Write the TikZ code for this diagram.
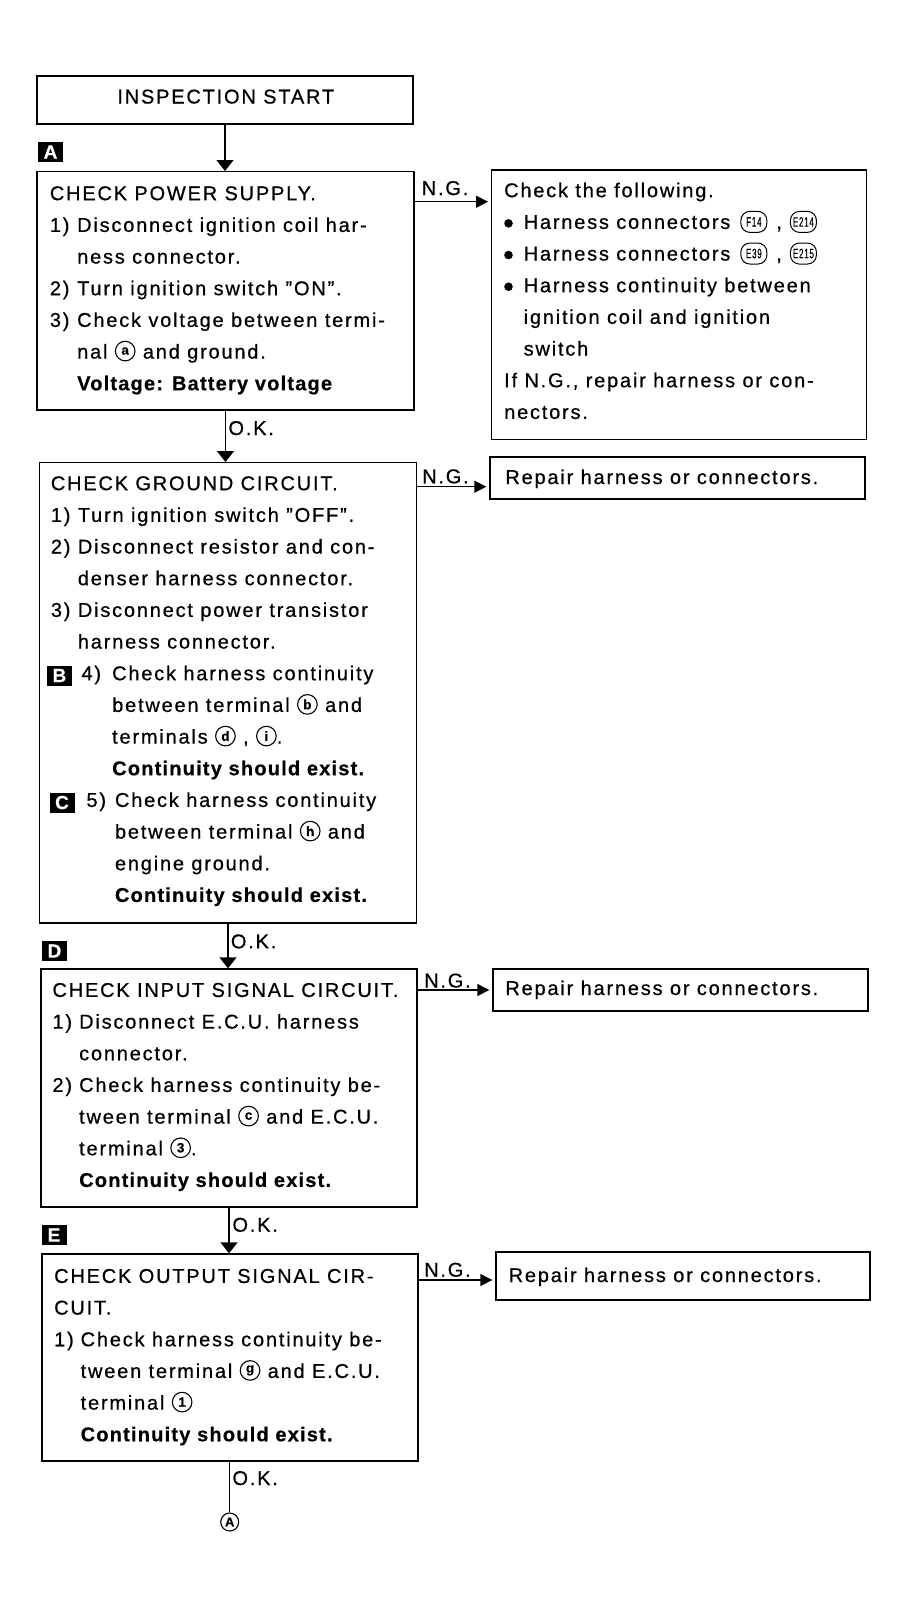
\documentclass[tikz,border=0pt]{standalone}
\usepackage{fontspec}
\usepackage{graphicx}
\usetikzlibrary{arrows.meta}
\newfontfamily\hv{Liberation Sans}[LetterSpace=9,FakeBold=0.6]
\newfontfamily\hvb{Liberation Sans}[LetterSpace=6,BoldFeatures={FakeBold=0.5}]
\newcommand\fs{\fontsize{20}{31.67}\selectfont}
\newcommand\bld[1]{{\hvb\bfseries #1}}
\newcommand\circl[1]{\tikz[baseline=-7.5pt]{\draw[line width=1.1pt] (0pt,0pt) circle[radius=9.8pt]; \pgftext{\hvb\bfseries\fontsize{13.5}{13.5}\selectfont #1}}}
\newcommand\conn[1]{\tikz[baseline=-7pt]{\draw[line width=1pt,rounded corners=9pt] (-13pt,-10.5pt) rectangle (13pt,10.5pt); \pgftext{\hv\fontsize{13.5}{13.5}\selectfont\scalebox{0.6}[1]{#1}}}}
\newcommand\bul{\makebox[19.5pt][l]{\tikz[baseline=-5.5pt]\fill (4pt,0pt) circle[radius=4.3pt];}}
\tikzset{
  box/.style={draw, line width=1.4pt, inner sep=0pt},
  txt/.style={anchor=north west, inner sep=0pt, align=left, font=\hv\fs},
  tag/.style={anchor=base west, inner sep=0pt, font=\hv\fs},
  varrow/.style={line width=1.4pt, -{Triangle[length=11pt,width=17pt]}},
  harrow/.style={line width=1.4pt, -{Triangle[length=12pt,width=12pt]}, shorten >=3pt},
  lbl/.style={fill=black, text=white, inner sep=0pt, minimum width=25pt, minimum height=20pt, font=\hvb\bfseries\fontsize{19}{19}\selectfont},
}
\begin{document}
\begin{tikzpicture}[x=1pt,y=1pt]
\path[fill=white, use as bounding box] (0,0) rectangle (908,-1610);

% ---------- main boxes ----------
\node[box,minimum width=376pt,minimum height=48pt] (start) at (225,-100) {};
\node[tag,anchor=base] (startT) at (225.8,-103.5) {INSPECTION START};

\node[box,minimum width=377pt,minimum height=238.3pt] (A) at (225.5,-290.85) {};
\node[box,minimum width=377.4pt,minimum height=460.3pt] (B) at (228,-692.85) {};
\node[box,minimum width=376pt,minimum height=238pt] (D) at (229,-1088) {};
\node[box,minimum width=376pt,minimum height=207pt] (E) at (230,-1357.5) {};

% ---------- N.G. boxes ----------
\node[box,minimum width=375pt,minimum height=269.3pt] (ng1) at (679.2,-304.65) {};
\node[box,minimum width=375pt,minimum height=42pt] (ng2) at (677.5,-478) {};
\node[box,minimum width=375pt,minimum height=42pt] (ng3) at (680.5,-990) {};
\node[box,minimum width=374pt,minimum height=48pt] (ng4) at (683,-1276) {};

% ---------- step labels ----------
\node[lbl] (lA) at (50.5,-152) {A};
\node[lbl] (lB) at (59.5,-675.5) {B};
\node[lbl] (lC) at (62,-802.5) {C};
\node[lbl] (lD) at (54.5,-951) {D};
\node[lbl] (lE) at (54,-1235) {E};

% ---------- texts ----------
\node[txt] (At) at (49.7,-180) {\rule{0pt}{20pt}CHECK POWER SUPPLY.\\
\makebox[27.3pt][l]{1)}Disconnect ignition coil har-\\
\hspace*{27.3pt}ness connector.\\
\makebox[27.3pt][l]{2)}Turn ignition switch ”ON”.\\
\makebox[27.3pt][l]{3)}Check voltage between termi-\\
\hspace*{27.3pt}nal \circl{a} and ground.\\
\hspace*{27.3pt}\bld{Voltage: Battery voltage}};

\node[txt] (Bt) at (50.7,-470) {\rule{0pt}{20pt}CHECK GROUND CIRCUIT.\\
\makebox[27pt][l]{1)}Turn ignition switch ”OFF”.\\
\makebox[27pt][l]{2)}Disconnect resistor and con-\\
\hspace*{27pt}denser harness connector.\\
\makebox[27pt][l]{3)}Disconnect power transistor\\
\hspace*{27pt}harness connector.\\
\hspace*{30.6pt}\makebox[30.7pt][l]{4)}Check harness continuity\\
\hspace*{61.3pt}between terminal \circl{b} and\\
\hspace*{61.3pt}terminals \circl{d} , \circl{i}.\\
\hspace*{61.3pt}\bld{Continuity should exist.}\\
\hspace*{35.6pt}\makebox[28.5pt][l]{5)}Check harness continuity\\
\hspace*{64.1pt}between terminal \circl{h} and\\
\hspace*{64.1pt}engine ground.\\
\hspace*{64.1pt}\bld{Continuity should exist.}};

\node[txt] (Dt) at (52.3,-976.7) {\rule{0pt}{20pt}CHECK INPUT SIGNAL CIRCUIT.\\
\makebox[26.7pt][l]{1)}Disconnect E.C.U. harness\\
\hspace*{26.7pt}connector.\\
\makebox[26.7pt][l]{2)}Check harness continuity be-\\
\hspace*{26.7pt}tween terminal \circl{c} and E.C.U.\\
\hspace*{26.7pt}terminal \circl{3}.\\
\hspace*{26.7pt}\bld{Continuity should exist.}};

\node[txt] (Et) at (54,-1262.7) {\rule{0pt}{20pt}CHECK OUTPUT SIGNAL CIR-\\
CUIT.\\
\makebox[26.5pt][l]{1)}Check harness continuity be-\\
\hspace*{26.5pt}tween terminal \circl{g} and E.C.U.\\
\hspace*{26.5pt}terminal \circl{1}\\
\hspace*{26.5pt}\bld{Continuity should exist.}};

\node[txt] (ng1t) at (504,-177) {\rule{0pt}{20pt}Check the following.\\
\bul Harness connectors\kern10pt\conn{F14}\kern9pt,\kern8pt\conn{E214}\\
\bul Harness connectors\kern10pt\conn{E39}\kern9pt,\kern8pt\conn{E215}\\
\bul Harness continuity between\\
\hspace*{19.5pt}ignition coil and ignition\\
\hspace*{19.5pt}switch\\
If N.G., repair harness or con-\\
nectors.};

\node[tag] (ng2t) at (505.2,-484) {Repair harness or connectors.};
\node[tag] (ng3t) at (505.2,-995) {Repair harness or connectors.};
\node[tag] (ng4t) at (508.5,-1282) {Repair harness or connectors.};

% ---------- vertical flow ----------
\node[circle,draw,line width=1.1pt,minimum size=18pt,inner sep=0pt,font=\hvb\bfseries\fontsize{13}{13}\selectfont] (endA) at (229.7,-1522) {A};

\draw[varrow] (start.south) -- (start.south |- A.north);
\draw[varrow] (A.south) -- (A.south |- B.north);
\draw[varrow] (B.south) -- (B.south |- D.north);
\draw[varrow] (D.south) -- (D.south |- E.north);
\draw[line width=1.4pt] (E.south -| endA) -- (endA.north);

\node[tag] (ok1) at (228.3,-435) {O.K.};
\node[tag] (ok2) at (230.7,-948.3) {O.K.};
\node[tag] (ok3) at (232.3,-1231.7) {O.K.};
\node[tag] (ok4) at (232.3,-1485) {O.K.};

% ---------- N.G. branches ----------
\coordinate (y1) at (0,-201.7);
\coordinate (y2) at (0,-486.7);
\coordinate (y3) at (0,-990);
\coordinate (y4) at (0,-1280);
\draw[harrow] (A.east |- y1) -- (ng1.west |- y1);
\draw[harrow] (B.east |- y2) -- (ng2.west |- y2);
\draw[harrow] (D.east |- y3) -- (ng3.west |- y3);
\draw[harrow] (E.east |- y4) -- (ng4.west |- y4);

\node[tag] (ng1l) at (421.6,-195) {N.G.};
\node[tag] (ng2l) at (422,-483.3) {N.G.};
\node[tag] (ng3l) at (424,-987.5) {N.G.};
\node[tag] (ng4l) at (424,-1276.7) {N.G.};
\end{tikzpicture}
\end{document}
